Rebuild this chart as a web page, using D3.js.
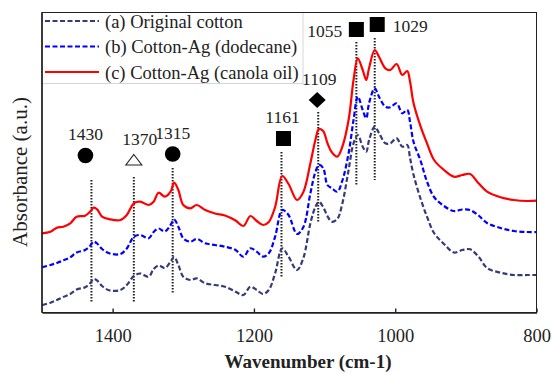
<!DOCTYPE html>
<html>
<head>
<meta charset="utf-8">
<script src="https://cdn.jsdelivr.net/npm/d3@7"></script>
<style>
  body { margin: 0; background: #fff; }
  text { font-family: "Liberation Serif", "Times New Roman", serif; fill: #222; }
</style>
</head>
<body>
<svg id="chart" width="552" height="374"></svg>
<script>
// FTIR spectra, 1500–800 cm-1
const wavenumbers = [1500,1488,1479,1470,1460,1451,1439,1432,1427,1422,1415,1404,1389,1380,1370,1361,1349,1342,1335,1326,1318,1313,1307,1300,1290,1281,1269,1255,1241,1226,1215,1205,1196,1187,1179,1170,1160,1151,1139,1130,1120,1113,1108,1102,1096,1090,1082,1075,1066,1059,1053,1046,1041,1037,1029,1023,1014,1007,998,990,983,979,974,964,955,945,931,917,905,894,882,870,851,832,813,800];

const originalCotton = [0.075,0.098,0.125,0.155,0.185,0.23,0.252,0.292,0.335,0.32,
  0.265,0.22,0.225,0.275,0.365,0.39,0.358,0.435,0.47,0.445,
  0.508,0.555,0.475,0.358,0.325,0.342,0.292,0.275,0.258,0.208,
  0.175,0.258,0.225,0.185,0.225,0.392,0.642,0.558,0.425,0.545,
  0.895,1.055,1.108,1.055,0.965,0.908,0.935,1.085,1.425,1.692,
  1.775,1.658,1.608,1.725,1.858,1.795,1.692,1.692,1.742,1.658,
  1.675,1.545,1.375,1.135,0.958,0.795,0.685,0.6,0.625,0.632,
  0.558,0.445,0.398,0.375,0.375,0.375];

const cottonAgDodecane = [0.452,0.475,0.495,0.52,0.552,0.6,0.625,0.665,0.708,0.69,
  0.635,0.59,0.585,0.64,0.758,0.775,0.742,0.805,0.84,0.81,
  0.875,0.93,0.858,0.742,0.708,0.735,0.692,0.675,0.658,0.625,
  0.558,0.642,0.608,0.558,0.592,0.758,1.025,0.975,0.785,0.855,
  1.195,1.405,1.475,1.445,1.275,1.245,1.208,1.315,1.592,1.925,
  2.158,2.025,1.942,2.095,2.242,2.158,2.058,2.052,2.092,1.992,
  2.025,1.905,1.705,1.515,1.308,1.155,1.065,1.015,1.03,1.025,
  0.97,0.895,0.845,0.815,0.805,0.805];

const cottonAgCanola = [0.792,0.808,0.848,0.858,0.892,0.958,0.968,1.008,1.048,1.032,
  0.958,0.932,0.925,0.975,1.092,1.108,1.075,1.108,1.198,1.158,
  1.208,1.298,1.225,1.075,1.042,1.075,1.025,0.99,0.97,0.92,
  0.865,0.965,0.915,0.875,0.905,1.055,1.365,1.285,1.125,1.205,
  1.495,1.725,1.835,1.815,1.695,1.605,1.558,1.655,1.925,2.325,
  2.542,2.425,2.325,2.445,2.625,2.558,2.442,2.425,2.485,2.375,
  2.415,2.308,2.092,1.858,1.692,1.525,1.425,1.358,1.375,1.385,
  1.292,1.208,1.152,1.125,1.115,1.118];

const seriesLabels = ["(a) Original cotton", "(b) Cotton-Ag (dodecane)", "(c) Cotton-Ag (canola oil)"];
const tickValues = [1400, 1200, 1000, 800];
const peakPositions = [1430, 1370, 1315, 1161, 1109, 1055, 1029];
const peakSymbols = ["circle", "triangle", "circle", "square", "diamond", "square", "square"];

// layout of the peak annotations (pixel offsets / heights)
const peakLayout = [
  { mdx: -6, my: 155.5, ldx: -6, ly: 140, anchor: "middle", y1: 180, y2: 303 },
  { mdx: 0,  my: 160,   ldx: 6,  ly: 145, anchor: "middle", y1: 177, y2: 303 },
  { mdx: 0,  my: 154,   ldx: 0,  ly: 139, anchor: "middle", y1: 168, y2: 293 },
  { mdx: 2,  my: 138.5, ldx: 1,  ly: 123, anchor: "middle", y1: 152, y2: 278 },
  { mdx: -1, my: 100,   ldx: 1,  ly: 85,  anchor: "middle", y1: 112, y2: 222 },
  { mdx: 0,  my: 29.5,  ldx: -14, ly: 37, anchor: "end",    y1: 42,  y2: 185 },
  { mdx: 2.5, my: 24.5, ldx: 18, ly: 32,  anchor: "start",  y1: 38,  y2: 180 }
];

const styles = [
  { color: "#353a78", dash: "5,2.5" },
  { color: "#0000ff", dash: "5,2.5" },
  { color: "#ff0000", dash: null }
];

(function draw() {
  const W = 552, H = 374;
  const plotLeft = 42, plotRight = 536.5, plotTop = 12.5, plotBottom = 312.5;

  const svg = d3.select("#chart");
  svg.append("rect").attr("width", W).attr("height", H).attr("fill", "#fff");

  const x = d3.scaleLinear().domain([1500, 800]).range([plotLeft, plotRight]);
  const y = d3.scaleLinear().domain([0, 3]).range([plotBottom, plotTop]);

  // legend box (drawn under the frame)
  svg.append("rect")
    .attr("x", plotLeft).attr("y", plotTop).attr("width", 261).attr("height", 71)
    .attr("fill", "#fff").attr("stroke", "#d6d6d6").attr("stroke-width", 1);

  const seriesData = [originalCotton, cottonAgDodecane, cottonAgCanola];

  const line = d3.line()
    .x((d, i) => x(wavenumbers[i]))
    .y(d => y(d))
    .curve(d3.curveCatmullRom.alpha(0.5));

  // dotted peak guides
  const peaks = svg.append("g");
  peakPositions.forEach((p, i) => {
    const L = peakLayout[i];
    peaks.append("line")
      .attr("x1", x(p)).attr("x2", x(p))
      .attr("y1", L.y1).attr("y2", L.y2)
      .attr("stroke", "#222").attr("stroke-width", 2)
      .attr("stroke-dasharray", "1.5,1.5");
  });

  // spectra
  seriesData.forEach((vals, k) => {
    svg.append("path")
      .datum(vals)
      .attr("d", line)
      .attr("fill", "none")
      .attr("stroke", styles[k].color)
      .attr("stroke-width", 2.2)
      .attr("stroke-dasharray", styles[k].dash)
      .attr("stroke-linejoin", "round");
  });

  // peak markers and labels
  const marks = svg.append("g");
  peakPositions.forEach((p, i) => {
    const L = peakLayout[i];
    const cx = x(p) + L.mdx, cy = L.my;
    const s = peakSymbols[i];
    if (s === "circle") {
      marks.append("circle").attr("cx", cx).attr("cy", cy).attr("r", 7.8).attr("fill", "#000");
    } else if (s === "square") {
      marks.append("rect").attr("x", cx - 7.5).attr("y", cy - 7.5)
        .attr("width", 15).attr("height", 15).attr("fill", "#000");
    } else if (s === "diamond") {
      marks.append("path")
        .attr("d", `M${cx},${cy - 8}L${cx + 8.5},${cy}L${cx},${cy + 8}L${cx - 8.5},${cy}Z`)
        .attr("fill", "#000");
    } else if (s === "triangle") {
      marks.append("path")
        .attr("d", `M${cx},${cy - 5.5}L${cx + 8},${cy + 5}L${cx - 8},${cy + 5}Z`)
        .attr("fill", "#fff").attr("stroke", "#222").attr("stroke-width", 1.1);
    }
    marks.append("text")
      .attr("x", x(p) + L.ldx).attr("y", L.ly)
      .attr("text-anchor", L.anchor)
      .attr("font-size", 17.5)
      .text(p);
  });

  // legend entries
  seriesLabels.forEach((lab, k) => {
    const ly = 21 + k * 25.5;
    svg.append("line")
      .attr("x1", 45).attr("x2", 99).attr("y1", ly).attr("y2", ly)
      .attr("stroke", styles[k].color).attr("stroke-width", 2)
      .attr("stroke-dasharray", styles[k].dash);
    svg.append("text")
      .attr("x", 105).attr("y", ly + 6.5)
      .attr("font-size", 18.5)
      .text(lab);
  });

  // frame
  svg.append("rect")
    .attr("x", plotLeft).attr("y", plotTop)
    .attr("width", plotRight - plotLeft).attr("height", plotBottom - plotTop)
    .attr("fill", "none").attr("stroke", "#222").attr("stroke-width", 1);
  svg.append("line")
    .attr("x1", plotLeft).attr("x2", plotLeft).attr("y1", plotTop).attr("y2", plotBottom)
    .attr("stroke", "#222").attr("stroke-width", 1.5);

  // x axis with inward ticks
  const axis = svg.append("g")
    .attr("transform", `translate(0,${plotBottom})`)
    .call(d3.axisBottom(x).tickValues(tickValues).tickSizeInner(-4).tickSizeOuter(0)
      .tickPadding(16).tickFormat(d3.format("d")));
  axis.select(".domain").attr("stroke", "#222").attr("stroke-width", 1.6);
  axis.selectAll(".tick line").attr("stroke", "#222").attr("stroke-width", 1.4);
  axis.selectAll(".tick text").attr("font-size", 18.5)
    .attr("font-family", "Liberation Serif, serif").attr("fill", "#222");

  // axis titles
  svg.append("text")
    .attr("x", 308).attr("y", 368)
    .attr("text-anchor", "middle")
    .attr("font-size", 19).attr("font-weight", "bold")
    .text("Wavenumber (cm-1)");

  svg.append("text")
    .attr("transform", "translate(27,172) rotate(-90)")
    .attr("text-anchor", "middle")
    .attr("font-size", 21)
    .text("Absorbance (a.u.)");
})();
</script>
</body>
</html>
